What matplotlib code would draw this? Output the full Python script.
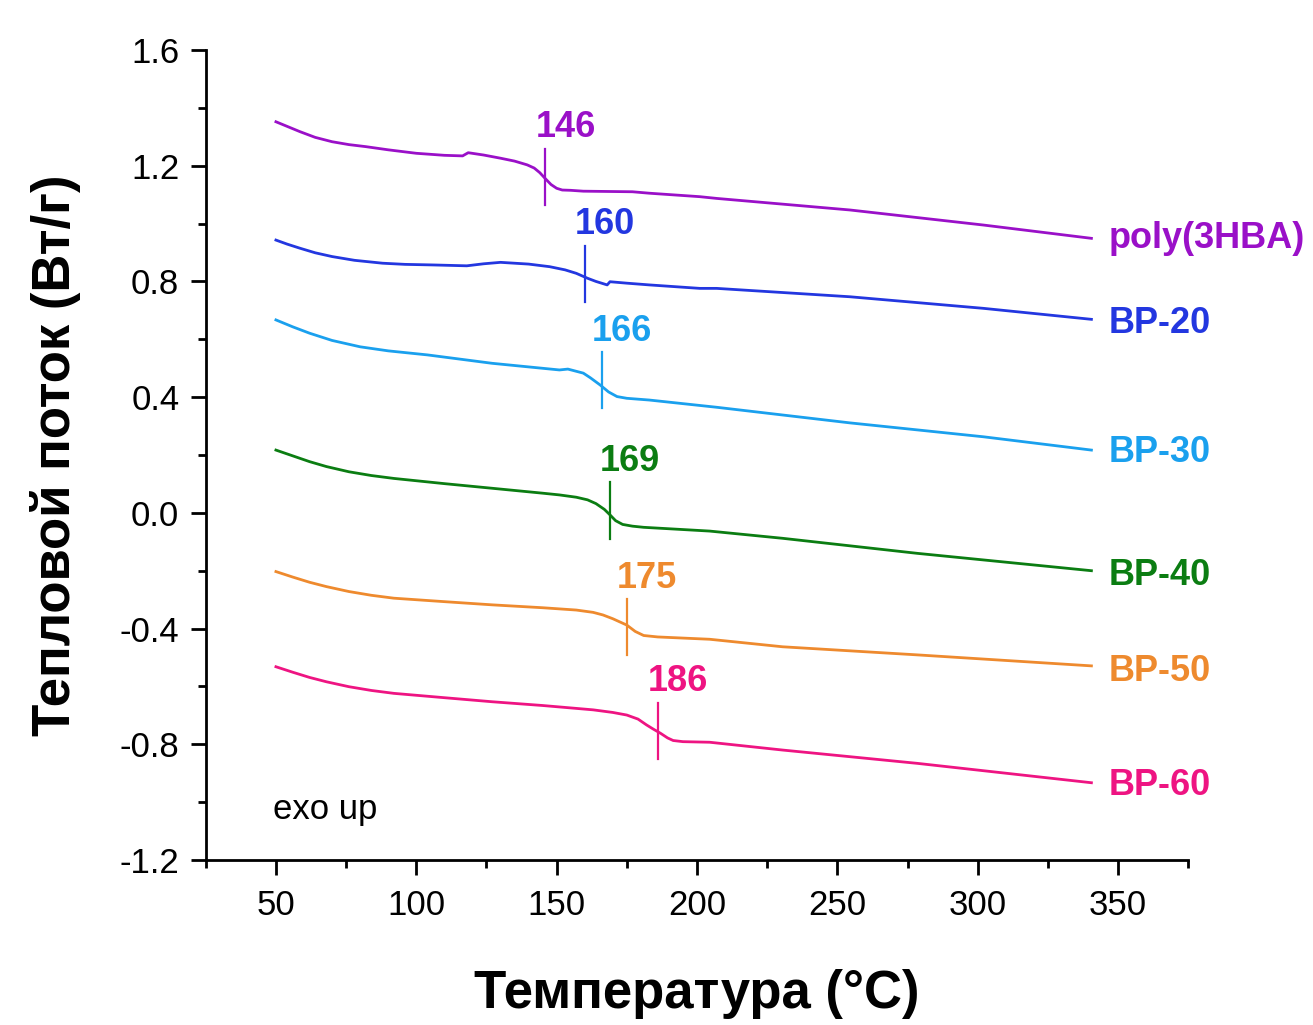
import matplotlib.pyplot as plt
from matplotlib.ticker import MultipleLocator

plt.rcParams["font.family"] = ["Liberation Sans", "DejaVu Sans"]

# DSC curves (temperature, heat flow)
t_3hba = [50, 54, 58.5, 64, 70, 76, 82, 90, 100, 110, 116.5, 118.5, 124, 130, 135, 139.5, 142, 144, 146, 148, 150, 152, 155, 159.5, 177, 183, 201, 207, 254.5, 302, 340.5]
q_3hba = [1.352, 1.336, 1.318, 1.298, 1.283, 1.273, 1.266, 1.255, 1.243, 1.236, 1.234, 1.245, 1.237, 1.226, 1.216, 1.203, 1.192, 1.176, 1.155, 1.135, 1.122, 1.116, 1.115, 1.112, 1.110, 1.105, 1.093, 1.087, 1.047, 0.995, 0.949]

t_bp20 = [50, 54, 58.5, 64, 70, 78, 88, 96, 106, 118, 124, 130, 140, 147.5, 153, 157, 161, 164, 168, 169, 175, 183, 201, 207, 254.5, 302, 340.5]
q_bp20 = [0.943, 0.929, 0.915, 0.899, 0.886, 0.873, 0.863, 0.859, 0.857, 0.854, 0.861, 0.866, 0.860, 0.851, 0.840, 0.828, 0.811, 0.800, 0.788, 0.799, 0.794, 0.788, 0.776, 0.776, 0.747, 0.707, 0.669]

t_bp30 = [50, 56, 62, 70, 80, 90, 104, 127, 151, 154, 159.5, 162, 165.5, 168.5, 171.5, 175, 183, 207, 254.5, 302, 340.5]
q_bp30 = [0.667, 0.643, 0.621, 0.596, 0.574, 0.560, 0.546, 0.517, 0.494, 0.497, 0.483, 0.467, 0.442, 0.418, 0.402, 0.396, 0.390, 0.365, 0.311, 0.263, 0.217]

t_bp40 = [50, 56, 62, 68, 76, 84, 92, 110, 127, 145, 151, 157, 161, 164, 167, 169, 171, 173.5, 177, 181, 204.5, 230.5, 278.5, 340.5]
q_bp40 = [0.217, 0.197, 0.177, 0.160, 0.142, 0.129, 0.119, 0.101, 0.085, 0.068, 0.062, 0.054, 0.045, 0.032, 0.012, -0.007, -0.027, -0.040, -0.046, -0.050, -0.063, -0.088, -0.140, -0.200]

t_bp50 = [50, 56, 62, 68, 76, 84, 92, 110, 127, 145, 157, 163, 166.5, 170, 175, 178, 181, 186, 204.5, 230.5, 278.5, 340.5]
q_bp50 = [-0.203, -0.222, -0.240, -0.255, -0.272, -0.285, -0.295, -0.307, -0.318, -0.328, -0.336, -0.344, -0.353, -0.366, -0.388, -0.410, -0.424, -0.429, -0.437, -0.463, -0.491, -0.529]

t_bp60 = [50, 56, 62, 68, 76, 84, 92, 110, 127, 145, 163, 170, 175, 179, 182, 184.5, 187, 189.5, 191.5, 195, 204.5, 230.5, 278.5, 340.5]
q_bp60 = [-0.532, -0.551, -0.569, -0.584, -0.601, -0.614, -0.624, -0.639, -0.653, -0.666, -0.681, -0.690, -0.699, -0.713, -0.733, -0.748, -0.762, -0.778, -0.787, -0.791, -0.793, -0.820, -0.866, -0.933]

names = ["poly(3HBA)", "BP-20", "BP-30", "BP-40", "BP-50", "BP-60"]
temps = [t_3hba, t_bp20, t_bp30, t_bp40, t_bp50, t_bp60]
flows = [q_3hba, q_bp20, q_bp30, q_bp40, q_bp50, q_bp60]
colors = ["#9a10c8", "#2337e0", "#1aa0ee", "#0b7d12", "#ee8a2e", "#ee1482"]

# glass transition temperatures and heat flow at the marker
tg = [146, 160, 166, 169, 175, 186]
tg_q = [1.162, 0.826, 0.458, 0.008, -0.396, -0.755]
label_y = [0.947, 0.656, 0.207, -0.218, -0.547, -0.944]

fig = plt.figure(figsize=(13.13, 10.25), dpi=100)
ax = fig.add_axes([0.1567, 0.161, 0.7483, 0.7902])

for t, q, c, name, g, gq, ly in zip(temps, flows, colors, names, tg, tg_q, label_y):
    ax.plot(t, q, color=c, lw=2)
    ax.plot([g, g], [gq - 0.097, gq + 0.097], color=c, lw=1.6)
    ax.text(g - 3.6, gq + 0.11, str(g), color=c, fontsize=26, fontweight="bold",
            ha="left", va="bottom")
    ax.text(346.5, ly, name, color=c, fontsize=26, fontweight="bold",
            ha="left", va="center", clip_on=False)

ax.text(49, -1.06, "exo up", fontsize=25, ha="left", va="baseline")

ax.set_xlim(25, 375)
ax.set_ylim(-1.2, 1.6)
ax.xaxis.set_major_locator(MultipleLocator(50))
ax.xaxis.set_minor_locator(MultipleLocator(25))
ax.yaxis.set_major_locator(MultipleLocator(0.4))
ax.yaxis.set_minor_locator(MultipleLocator(0.2))
ax.yaxis.set_major_formatter(plt.FuncFormatter(lambda v, p: f"{v:.1f}"))

for s in ["top", "right"]:
    ax.spines[s].set_visible(False)
for s in ["left", "bottom"]:
    ax.spines[s].set_linewidth(2)

ax.tick_params(which="major", direction="out", length=11, width=2, labelsize=25, pad=8)
ax.tick_params(axis="x", which="major", pad=10)
ax.tick_params(which="minor", direction="out", length=5.5, width=2)

ax.set_xlabel("Температура (°C)", fontsize=38, fontweight="bold", labelpad=34)
ax.set_ylabel("Тепловой поток (Вт/г)", fontsize=38, fontweight="bold", labelpad=28)

fig.savefig("out.png", dpi=100)
